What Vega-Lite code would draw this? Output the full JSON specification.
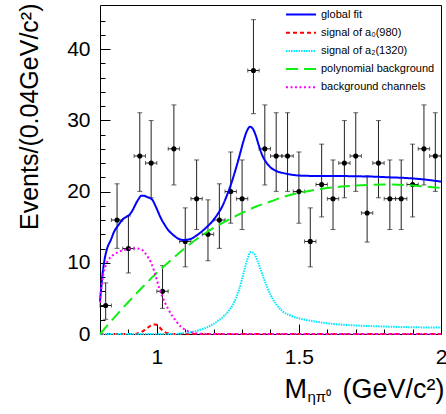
{
  "$schema": "https://vega.github.io/schema/vega-lite/v6.json",
  "width": 341,
  "height": 329,
  "autosize": {"type": "none"},
  "padding": {"left": 100, "top": 5, "right": 5, "bottom": 80},
  "background": "white",
  "config": {
    "view": {"stroke": "black", "strokeWidth": 1},
    "axis": {"labelFont": "Liberation Sans", "titleFont": "Liberation Sans", "labelColor": "black", "titleColor": "black", "tickColor": "black", "titleFontWeight": "normal", "grid": false, "domain": false}
  },
  "datasets": {
    "pts": [
      {"x": 0.82, "xlo": 0.80, "xhi": 0.84, "n": 4, "ylo": 2.06, "yhi": 7.18},
      {"x": 0.86, "xlo": 0.84, "xhi": 0.88, "n": 16, "ylo": 12.03, "yhi": 21.09},
      {"x": 0.90, "xlo": 0.88, "xhi": 0.92, "n": 12, "ylo": 8.57, "yhi": 16.57},
      {"x": 0.94, "xlo": 0.92, "xhi": 0.96, "n": 25, "ylo": 20.03, "yhi": 31.07},
      {"x": 0.98, "xlo": 0.96, "xhi": 1.00, "n": 24, "ylo": 19.13, "yhi": 29.97},
      {"x": 1.02, "xlo": 1.00, "xhi": 1.04, "n": 6, "ylo": 3.6, "yhi": 9.6},
      {"x": 1.06, "xlo": 1.04, "xhi": 1.08, "n": 26, "ylo": 20.93, "yhi": 32.17},
      {"x": 1.10, "xlo": 1.08, "xhi": 1.12, "n": 13, "ylo": 9.43, "yhi": 17.71},
      {"x": 1.14, "xlo": 1.12, "xhi": 1.16, "n": 19, "ylo": 14.67, "yhi": 24.44},
      {"x": 1.18, "xlo": 1.16, "xhi": 1.20, "n": 14, "ylo": 10.29, "yhi": 18.84},
      {"x": 1.22, "xlo": 1.20, "xhi": 1.24, "n": 16, "ylo": 12.03, "yhi": 21.09},
      {"x": 1.26, "xlo": 1.24, "xhi": 1.28, "n": 20, "ylo": 15.56, "yhi": 25.56},
      {"x": 1.30, "xlo": 1.28, "xhi": 1.32, "n": 19, "ylo": 14.67, "yhi": 24.44},
      {"x": 1.34, "xlo": 1.32, "xhi": 1.36, "n": 37, "ylo": 30.94, "yhi": 44.14},
      {"x": 1.38, "xlo": 1.36, "xhi": 1.40, "n": 26, "ylo": 20.93, "yhi": 32.17},
      {"x": 1.42, "xlo": 1.40, "xhi": 1.44, "n": 25, "ylo": 20.03, "yhi": 31.07},
      {"x": 1.46, "xlo": 1.44, "xhi": 1.48, "n": 25, "ylo": 20.03, "yhi": 31.07},
      {"x": 1.50, "xlo": 1.48, "xhi": 1.52, "n": 20, "ylo": 15.56, "yhi": 25.56},
      {"x": 1.54, "xlo": 1.52, "xhi": 1.56, "n": 13, "ylo": 9.43, "yhi": 17.71},
      {"x": 1.58, "xlo": 1.56, "xhi": 1.60, "n": 21, "ylo": 16.44, "yhi": 26.66},
      {"x": 1.62, "xlo": 1.60, "xhi": 1.64, "n": 19, "ylo": 14.67, "yhi": 24.44},
      {"x": 1.66, "xlo": 1.64, "xhi": 1.68, "n": 24, "ylo": 19.13, "yhi": 29.97},
      {"x": 1.70, "xlo": 1.68, "xhi": 1.72, "n": 25, "ylo": 20.03, "yhi": 31.07},
      {"x": 1.74, "xlo": 1.72, "xhi": 1.76, "n": 17, "ylo": 12.91, "yhi": 22.21},
      {"x": 1.78, "xlo": 1.76, "xhi": 1.80, "n": 24, "ylo": 19.13, "yhi": 29.97},
      {"x": 1.82, "xlo": 1.80, "xhi": 1.84, "n": 19, "ylo": 14.67, "yhi": 24.44},
      {"x": 1.86, "xlo": 1.84, "xhi": 1.88, "n": 19, "ylo": 14.67, "yhi": 24.44},
      {"x": 1.90, "xlo": 1.88, "xhi": 1.92, "n": 21, "ylo": 16.44, "yhi": 26.66},
      {"x": 1.94, "xlo": 1.92, "xhi": 1.96, "n": 26, "ylo": 20.93, "yhi": 32.17},
      {"x": 1.98, "xlo": 1.96, "xhi": 2.00, "n": 25, "ylo": 20.03, "yhi": 31.07}
    ],
    "curves": [
      {"series": "global fit", "x": 0.800, "y": 4.6},
      {"series": "global fit", "x": 0.805, "y": 6.8},
      {"series": "global fit", "x": 0.810, "y": 8.8},
      {"series": "global fit", "x": 0.815, "y": 10.2},
      {"series": "global fit", "x": 0.825, "y": 12.0},
      {"series": "global fit", "x": 0.838, "y": 13.2},
      {"series": "global fit", "x": 0.850, "y": 14.4},
      {"series": "global fit", "x": 0.865, "y": 15.3},
      {"series": "global fit", "x": 0.880, "y": 16.1},
      {"series": "global fit", "x": 0.895, "y": 16.5},
      {"series": "global fit", "x": 0.905, "y": 16.8},
      {"series": "global fit", "x": 0.915, "y": 17.4},
      {"series": "global fit", "x": 0.925, "y": 18.2},
      {"series": "global fit", "x": 0.935, "y": 18.9},
      {"series": "global fit", "x": 0.945, "y": 19.4},
      {"series": "global fit", "x": 0.955, "y": 19.4},
      {"series": "global fit", "x": 0.965, "y": 19.25},
      {"series": "global fit", "x": 0.975, "y": 19.1},
      {"series": "global fit", "x": 0.985, "y": 18.8},
      {"series": "global fit", "x": 0.995, "y": 18.0},
      {"series": "global fit", "x": 1.005, "y": 17.1},
      {"series": "global fit", "x": 1.015, "y": 16.2},
      {"series": "global fit", "x": 1.025, "y": 15.5},
      {"series": "global fit", "x": 1.040, "y": 14.6},
      {"series": "global fit", "x": 1.055, "y": 14.0},
      {"series": "global fit", "x": 1.075, "y": 13.4},
      {"series": "global fit", "x": 1.095, "y": 13.2},
      {"series": "global fit", "x": 1.115, "y": 13.3},
      {"series": "global fit", "x": 1.135, "y": 13.7},
      {"series": "global fit", "x": 1.155, "y": 14.3},
      {"series": "global fit", "x": 1.175, "y": 15.0},
      {"series": "global fit", "x": 1.195, "y": 15.8},
      {"series": "global fit", "x": 1.215, "y": 16.9},
      {"series": "global fit", "x": 1.230, "y": 17.9},
      {"series": "global fit", "x": 1.245, "y": 19.3},
      {"series": "global fit", "x": 1.260, "y": 20.9},
      {"series": "global fit", "x": 1.275, "y": 22.8},
      {"series": "global fit", "x": 1.290, "y": 24.9},
      {"series": "global fit", "x": 1.305, "y": 27.1},
      {"series": "global fit", "x": 1.318, "y": 28.6},
      {"series": "global fit", "x": 1.328, "y": 29.1},
      {"series": "global fit", "x": 1.338, "y": 28.8},
      {"series": "global fit", "x": 1.348, "y": 27.9},
      {"series": "global fit", "x": 1.358, "y": 26.6},
      {"series": "global fit", "x": 1.370, "y": 25.2},
      {"series": "global fit", "x": 1.385, "y": 24.1},
      {"series": "global fit", "x": 1.400, "y": 23.4},
      {"series": "global fit", "x": 1.420, "y": 22.9},
      {"series": "global fit", "x": 1.445, "y": 22.6},
      {"series": "global fit", "x": 1.470, "y": 22.4},
      {"series": "global fit", "x": 1.500, "y": 22.25},
      {"series": "global fit", "x": 1.550, "y": 22.2},
      {"series": "global fit", "x": 1.600, "y": 22.2},
      {"series": "global fit", "x": 1.700, "y": 22.15},
      {"series": "global fit", "x": 1.760, "y": 22.1},
      {"series": "global fit", "x": 1.820, "y": 22.0},
      {"series": "global fit", "x": 1.880, "y": 21.9},
      {"series": "global fit", "x": 1.940, "y": 21.7},
      {"series": "global fit", "x": 2.000, "y": 21.4},
      {"series": "signal of a₀(980)", "x": 0.80, "y": 0},
      {"series": "signal of a₀(980)", "x": 0.92, "y": 0},
      {"series": "signal of a₀(980)", "x": 0.94, "y": 0.2},
      {"series": "signal of a₀(980)", "x": 0.955, "y": 0.5},
      {"series": "signal of a₀(980)", "x": 0.97, "y": 0.95},
      {"series": "signal of a₀(980)", "x": 0.985, "y": 1.3},
      {"series": "signal of a₀(980)", "x": 0.995, "y": 1.35},
      {"series": "signal of a₀(980)", "x": 1.005, "y": 1.15},
      {"series": "signal of a₀(980)", "x": 1.015, "y": 0.7},
      {"series": "signal of a₀(980)", "x": 1.025, "y": 0.35},
      {"series": "signal of a₀(980)", "x": 1.04, "y": 0.1},
      {"series": "signal of a₀(980)", "x": 1.06, "y": 0},
      {"series": "signal of a₀(980)", "x": 2.0, "y": 0},
      {"series": "signal of a₂(1320)", "x": 0.80, "y": 0},
      {"series": "signal of a₂(1320)", "x": 1.05, "y": 0},
      {"series": "signal of a₂(1320)", "x": 1.10, "y": 0.15},
      {"series": "signal of a₂(1320)", "x": 1.15, "y": 0.55},
      {"series": "signal of a₂(1320)", "x": 1.19, "y": 1.2},
      {"series": "signal of a₂(1320)", "x": 1.22, "y": 2.0},
      {"series": "signal of a₂(1320)", "x": 1.25, "y": 3.1},
      {"series": "signal of a₂(1320)", "x": 1.27, "y": 4.3},
      {"series": "signal of a₂(1320)", "x": 1.29, "y": 6.3},
      {"series": "signal of a₂(1320)", "x": 1.305, "y": 8.5},
      {"series": "signal of a₂(1320)", "x": 1.318, "y": 10.4},
      {"series": "signal of a₂(1320)", "x": 1.33, "y": 11.5},
      {"series": "signal of a₂(1320)", "x": 1.342, "y": 11.3},
      {"series": "signal of a₂(1320)", "x": 1.355, "y": 10.2},
      {"series": "signal of a₂(1320)", "x": 1.37, "y": 8.5},
      {"series": "signal of a₂(1320)", "x": 1.385, "y": 6.9},
      {"series": "signal of a₂(1320)", "x": 1.40, "y": 5.5},
      {"series": "signal of a₂(1320)", "x": 1.42, "y": 4.2},
      {"series": "signal of a₂(1320)", "x": 1.445, "y": 3.1},
      {"series": "signal of a₂(1320)", "x": 1.47, "y": 2.6},
      {"series": "signal of a₂(1320)", "x": 1.50, "y": 2.2},
      {"series": "signal of a₂(1320)", "x": 1.55, "y": 1.8},
      {"series": "signal of a₂(1320)", "x": 1.60, "y": 1.5},
      {"series": "signal of a₂(1320)", "x": 1.70, "y": 1.2},
      {"series": "signal of a₂(1320)", "x": 1.80, "y": 1.05},
      {"series": "signal of a₂(1320)", "x": 1.90, "y": 0.95},
      {"series": "signal of a₂(1320)", "x": 2.00, "y": 0.9},
      {"series": "polynomial background", "x": 0.80, "y": 0},
      {"series": "polynomial background", "x": 0.85, "y": 2.3},
      {"series": "polynomial background", "x": 0.90, "y": 4.5},
      {"series": "polynomial background", "x": 0.95, "y": 6.6},
      {"series": "polynomial background", "x": 1.00, "y": 8.6},
      {"series": "polynomial background", "x": 1.05, "y": 10.4},
      {"series": "polynomial background", "x": 1.10, "y": 12.1},
      {"series": "polynomial background", "x": 1.15, "y": 13.6},
      {"series": "polynomial background", "x": 1.20, "y": 14.9},
      {"series": "polynomial background", "x": 1.25, "y": 16.0},
      {"series": "polynomial background", "x": 1.30, "y": 17.0},
      {"series": "polynomial background", "x": 1.35, "y": 17.9},
      {"series": "polynomial background", "x": 1.40, "y": 18.6},
      {"series": "polynomial background", "x": 1.45, "y": 19.3},
      {"series": "polynomial background", "x": 1.50, "y": 19.8},
      {"series": "polynomial background", "x": 1.55, "y": 20.2},
      {"series": "polynomial background", "x": 1.60, "y": 20.5},
      {"series": "polynomial background", "x": 1.65, "y": 20.7},
      {"series": "polynomial background", "x": 1.70, "y": 20.85},
      {"series": "polynomial background", "x": 1.75, "y": 20.95},
      {"series": "polynomial background", "x": 1.80, "y": 21.0},
      {"series": "polynomial background", "x": 1.85, "y": 20.95},
      {"series": "polynomial background", "x": 1.90, "y": 20.85},
      {"series": "polynomial background", "x": 1.95, "y": 20.7},
      {"series": "polynomial background", "x": 2.00, "y": 20.5},
      {"series": "background channels", "x": 0.800, "y": 4.4},
      {"series": "background channels", "x": 0.805, "y": 6.5},
      {"series": "background channels", "x": 0.810, "y": 8.0},
      {"series": "background channels", "x": 0.820, "y": 9.6},
      {"series": "background channels", "x": 0.835, "y": 10.7},
      {"series": "background channels", "x": 0.850, "y": 11.2},
      {"series": "background channels", "x": 0.870, "y": 11.6},
      {"series": "background channels", "x": 0.890, "y": 11.85},
      {"series": "background channels", "x": 0.910, "y": 12.0},
      {"series": "background channels", "x": 0.930, "y": 12.0},
      {"series": "background channels", "x": 0.945, "y": 11.9},
      {"series": "background channels", "x": 0.960, "y": 11.3},
      {"series": "background channels", "x": 0.970, "y": 10.7},
      {"series": "background channels", "x": 0.980, "y": 10.0},
      {"series": "background channels", "x": 0.990, "y": 8.9},
      {"series": "background channels", "x": 1.000, "y": 7.6},
      {"series": "background channels", "x": 1.010, "y": 6.2},
      {"series": "background channels", "x": 1.020, "y": 5.2},
      {"series": "background channels", "x": 1.030, "y": 4.3},
      {"series": "background channels", "x": 1.040, "y": 3.5},
      {"series": "background channels", "x": 1.055, "y": 2.5},
      {"series": "background channels", "x": 1.070, "y": 1.7},
      {"series": "background channels", "x": 1.085, "y": 1.0},
      {"series": "background channels", "x": 1.100, "y": 0.6},
      {"series": "background channels", "x": 1.120, "y": 0.25},
      {"series": "background channels", "x": 1.150, "y": 0.05},
      {"series": "background channels", "x": 1.200, "y": 0},
      {"series": "background channels", "x": 2.000, "y": 0}
    ]
  },
  "resolve": {"axis": {"x": "independent", "y": "independent"}},
  "layer": [
    {
      "data": {"name": "pts"},
      "mark": {"type": "rule", "color": "#222222", "strokeWidth": 1},
      "encoding": {
        "x": {"field": "x", "type": "quantitative", "scale": {"domain": [0.8, 2.0], "nice": false, "zero": false},
          "axis": {"orient": "bottom", "values": [0.9, 1.1, 1.2, 1.3, 1.4, 1.6, 1.7, 1.8, 1.9], "labels": false, "tickSize": -5, "title": "M", "titleFontSize": 27, "titleX": 184, "titleY": 63, "titleAlign": "left", "titleBaseline": "alphabetic", "titleAngle": 0}},
        "y": {"field": "ylo", "type": "quantitative", "scale": {"domain": [0, 46.2], "nice": false, "zero": false},
          "axis": {"orient": "left", "values": [2, 4, 6, 8, 12, 14, 16, 18, 22, 24, 26, 28, 32, 34, 36, 38, 42, 44], "labels": false, "tickSize": -5, "title": null}},
        "y2": {"field": "yhi"}
      }
    },
    {
      "data": {"name": "pts"},
      "mark": {"type": "rule", "color": "#222222", "strokeWidth": 1},
      "encoding": {
        "x": {"field": "xlo", "type": "quantitative", "scale": {"domain": [0.8, 2.0], "nice": false, "zero": false},
          "axis": {"orient": "bottom", "labels": false, "ticks": false, "title": "ηπ⁰", "titleFontSize": 15, "titleX": 207, "titleY": 67, "titleAlign": "left", "titleBaseline": "alphabetic", "titleAngle": 0}},
        "x2": {"field": "xhi"},
        "y": {"field": "n", "type": "quantitative", "scale": {"domain": [0, 46.2], "nice": false, "zero": false}, "axis": null}
      }
    },
    {
      "data": {"name": "pts"},
      "mark": {"type": "tick", "orient": "horizontal", "color": "#222222", "thickness": 1, "size": 5},
      "encoding": {
        "x": {"field": "x", "type": "quantitative", "scale": {"domain": [0.8, 2.0], "nice": false, "zero": false}, "axis": null},
        "y": {"field": "ylo", "type": "quantitative", "scale": {"domain": [0, 46.2], "nice": false, "zero": false}, "axis": null}
      }
    },
    {
      "data": {"name": "pts"},
      "mark": {"type": "tick", "orient": "horizontal", "color": "#222222", "thickness": 1, "size": 5},
      "encoding": {
        "x": {"field": "x", "type": "quantitative", "scale": {"domain": [0.8, 2.0], "nice": false, "zero": false}, "axis": null},
        "y": {"field": "yhi", "type": "quantitative", "scale": {"domain": [0, 46.2], "nice": false, "zero": false}, "axis": null}
      }
    },
    {
      "data": {"name": "pts"},
      "mark": {"type": "tick", "orient": "vertical", "color": "#222222", "thickness": 1, "size": 4},
      "encoding": {
        "x": {"field": "xlo", "type": "quantitative", "scale": {"domain": [0.8, 2.0], "nice": false, "zero": false}, "axis": null},
        "y": {"field": "n", "type": "quantitative", "scale": {"domain": [0, 46.2], "nice": false, "zero": false}, "axis": null}
      }
    },
    {
      "data": {"name": "pts"},
      "mark": {"type": "tick", "orient": "vertical", "color": "#222222", "thickness": 1, "size": 4},
      "encoding": {
        "x": {"field": "xhi", "type": "quantitative", "scale": {"domain": [0.8, 2.0], "nice": false, "zero": false}, "axis": null},
        "y": {"field": "n", "type": "quantitative", "scale": {"domain": [0, 46.2], "nice": false, "zero": false}, "axis": null}
      }
    },
    {
      "data": {"name": "pts"},
      "mark": {"type": "circle", "color": "black", "opacity": 1, "size": 26},
      "encoding": {
        "x": {"field": "x", "type": "quantitative", "scale": {"domain": [0.8, 2.0], "nice": false, "zero": false}, "axis": null},
        "y": {"field": "n", "type": "quantitative", "scale": {"domain": [0, 46.2], "nice": false, "zero": false}, "axis": null}
      }
    },
    {
      "data": {"name": "curves"},
      "mark": {"type": "line", "interpolate": "monotone"},
      "encoding": {
        "x": {"field": "x", "type": "quantitative", "scale": {"domain": [0.8, 2.0], "nice": false, "zero": false},
          "axis": {"orient": "bottom", "values": [1, 1.5, 2], "format": "~g", "labelFontSize": 21, "labelPadding": 22, "labelBaseline": "top", "labelFlush": false, "labelOverlap": false, "tickSize": -10, "tickWidth": 1,
            "title": "(GeV/c²)", "titleFontSize": 27, "titleX": 344, "titleY": 63, "titleAlign": "right", "titleBaseline": "alphabetic", "titleAngle": 0}},
        "y": {"field": "y", "type": "quantitative", "scale": {"domain": [0, 46.2], "nice": false, "zero": false},
          "axis": {"orient": "left", "values": [0, 10, 20, 30, 40], "labelFontSize": 21, "labelPadding": 20, "labelBaseline": "middle", "labelFlush": false, "tickSize": -10, "tickWidth": 1,
            "title": "Events/(0.04GeV/c²)", "titleFontSize": 25, "titleX": -63, "titleY": -2, "titleAlign": "right", "titleBaseline": "alphabetic", "titleAngle": -90}},
        "color": {"field": "series", "type": "nominal",
          "scale": {"domain": ["global fit", "signal of a₀(980)", "signal of a₂(1320)", "polynomial background", "background channels"],
                    "range": ["#0000ff", "#ff0000", "#00e8ff", "#11ee11", "#ff00ff"]},
          "legend": {"title": null, "orient": "none", "legendX": 185, "legendY": 4, "symbolType": "stroke", "symbolSize": 900, "clipHeight": 11, "rowPadding": 6.2, "labelFontSize": 11, "labelFont": "Liberation Sans", "labelColor": "black", "symbolStrokeWidth": 2, "padding": 0, "labelOffset": 4, "labelLimit": 300}},
        "strokeDash": {"field": "series", "type": "nominal",
          "scale": {"domain": ["global fit", "signal of a₀(980)", "signal of a₂(1320)", "polynomial background", "background channels"],
                    "range": [[1, 0], [4, 3], [1.5, 1], [12, 6], [2, 2.5]]}},
        "strokeWidth": {"field": "series", "type": "nominal",
          "scale": {"domain": ["global fit", "signal of a₀(980)", "signal of a₂(1320)", "polynomial background", "background channels"],
                    "range": [2, 2, 2, 3, 2.5]}, "legend": null}
      }
    }
  ]
}
